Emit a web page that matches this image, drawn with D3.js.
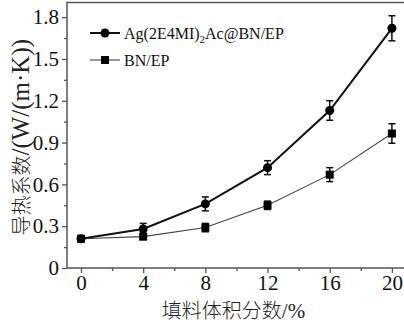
<!DOCTYPE html>
<html>
<head>
<meta charset="utf-8">
<script src="https://cdn.jsdelivr.net/npm/d3@7"></script>
<style>
  body { margin: 0; background: #fff; }
  svg { display: block; }
</style>
</head>
<body>
<div id="chart"></div>
<script>
// filler volume fraction, %
var fillerPct = [0, 4, 8, 12, 16, 20];
// thermal conductivity W/(m.K)
var agValues = [0.21, 0.28, 0.46, 0.72, 1.13, 1.72];
var agErrors = [0.02, 0.04, 0.05, 0.05, 0.07, 0.09];
var bnValues = [0.21, 0.225, 0.29, 0.45, 0.67, 0.965];
var bnErrors = [0.02, 0.02, 0.03, 0.03, 0.05, 0.07];
var xTicks = [0, 4, 8, 12, 16, 20];
var xMinorTicks = [2, 6, 10, 14, 18];
var yTicks = [0, 0.3, 0.6, 0.9, 1.2, 1.5, 1.8];
var yMinorTicks = [0.15, 0.45, 0.75, 1.05, 1.35, 1.65];

var width = 404, height = 324;
var plotLeft = 67, plotTop = 2.5, plotRight = 409, plotBottom = 268;
var serif = '"Liberation Serif", "Times New Roman", serif';

var svg = d3.select("#chart").append("svg")
    .attr("width", width)
    .attr("height", height);

var x = d3.scaleLinear().domain([-0.9, 21.1]).range([plotLeft, plotRight]);
var y = d3.scaleLinear().domain([0, 1.905]).range([plotBottom, plotTop]);

var axisColour = "#555";

//frame
svg.append("rect")
    .attr("x", plotLeft).attr("y", plotTop)
    .attr("width", plotRight - plotLeft).attr("height", plotBottom - plotTop)
    .attr("fill", "none")
    .attr("stroke", axisColour)
    .attr("stroke-width", 1.5);

//x axis
var xAxis = svg.append("g")
    .attr("transform", "translate(0," + plotBottom + ")")
    .call(d3.axisBottom(x).tickValues(xTicks).tickSize(5).tickPadding(2).tickFormat(d3.format("d")));
xAxis.select(".domain").remove();
xAxis.selectAll("line").attr("stroke", axisColour).attr("stroke-width", 1.3);
xAxis.selectAll("text").attr("font-family", serif).attr("font-size", 21).attr("fill", "#111");

var xMinor = svg.append("g")
    .attr("transform", "translate(0," + plotBottom + ")")
    .call(d3.axisBottom(x).tickValues(xMinorTicks).tickSize(3).tickFormat(""));
xMinor.select(".domain").remove();
xMinor.selectAll("line").attr("stroke", axisColour).attr("stroke-width", 1.3);

//y axis
var yAxis = svg.append("g")
    .attr("transform", "translate(" + plotLeft + ",0)")
    .call(d3.axisLeft(y).tickValues(yTicks).tickSize(5).tickPadding(3)
        .tickFormat(function(d){ return d === 0 ? "0" : d3.format(".1f")(d); }));
yAxis.select(".domain").remove();
yAxis.selectAll("line").attr("stroke", axisColour).attr("stroke-width", 1.3);
yAxis.selectAll("text").attr("font-family", serif).attr("font-size", 21).attr("fill", "#111");

var yMinor = svg.append("g")
    .attr("transform", "translate(" + plotLeft + ",0)")
    .call(d3.axisLeft(y).tickValues(yMinorTicks).tickSize(3).tickFormat(""));
yMinor.select(".domain").remove();
yMinor.selectAll("line").attr("stroke", axisColour).attr("stroke-width", 1.3);

//axis titles
svg.append("text")
    .attr("x", (plotLeft + 392) / 2 + 4)
    .attr("y", 318)
    .attr("text-anchor", "middle")
    .attr("font-size", 20)
    .attr("fill", "#222")
    .html('<tspan font-family="Noto Sans CJK SC" font-weight="300">填料体积分数</tspan><tspan font-family=\'' + serif + '\' font-size="21">/%</tspan>');

svg.append("text")
    .attr("transform", "translate(29," + ((plotTop + plotBottom) / 2 + 2) + ") rotate(-90)")
    .attr("text-anchor", "middle")
    .attr("font-size", 20)
    .attr("fill", "#222")
    .html('<tspan font-family="Noto Sans CJK SC" font-weight="300">导热系数</tspan><tspan font-family=\'' + serif + '\' font-size="25">/(W/(m·K))</tspan>');

function drawSeries(values, errors, lineWidth, lineColour, shape){
    var line = d3.line()
        .x(function(d, i){ return x(fillerPct[i]); })
        .y(function(d){ return y(d); });

    svg.append("path")
        .datum(values)
        .attr("d", line)
        .attr("fill", "none")
        .attr("stroke", lineColour)
        .attr("stroke-width", lineWidth);

    var g = svg.append("g");
    values.forEach(function(v, i){
        var cx = x(fillerPct[i]);
        var y1 = y(v + errors[i]), y2 = y(v - errors[i]);
        g.append("line").attr("x1", cx).attr("x2", cx).attr("y1", y1).attr("y2", y2)
            .attr("stroke", "#111").attr("stroke-width", 1.5);
        [y1, y2].forEach(function(yy){
            g.append("line").attr("x1", cx - 3.5).attr("x2", cx + 3.5).attr("y1", yy).attr("y2", yy)
                .attr("stroke", "#111").attr("stroke-width", 1.5);
        });
        drawMarker(g, shape, cx, y(v));
    });
}

function drawMarker(g, shape, cx, cy){
    if (shape == "circle"){
        g.append("circle").attr("cx", cx).attr("cy", cy).attr("r", 4.5).attr("fill", "#000");
    }
    else{
        g.append("rect").attr("x", cx - 4).attr("y", cy - 4).attr("width", 8).attr("height", 8).attr("fill", "#000");
    }
}

drawSeries(bnValues, bnErrors, 1.1, "#444", "square");
drawSeries(agValues, agErrors, 2, "#111", "circle");

//legend
var legend = [
    {label: 'Ag(2E4MI)<tspan font-size="11" dy="4">2</tspan><tspan dy="-4">Ac@BN/EP</tspan>', shape: "circle", w: 2, c: "#111", y: 33},
    {label: "BN/EP", shape: "square", w: 1.1, c: "#444", y: 60}
];
legend.forEach(function(l){
    svg.append("line").attr("x1", 90).attr("x2", 120).attr("y1", l.y).attr("y2", l.y)
        .attr("stroke", l.c).attr("stroke-width", l.w);
    drawMarker(svg, l.shape, 105, l.y);
    svg.append("text")
        .attr("font-family", serif)
        .attr("x", 124).attr("y", l.y + 5.5)
        .attr("font-size", 16)
        .attr("fill", "#111")
        .html(l.label);
});
</script>
</body>
</html>
